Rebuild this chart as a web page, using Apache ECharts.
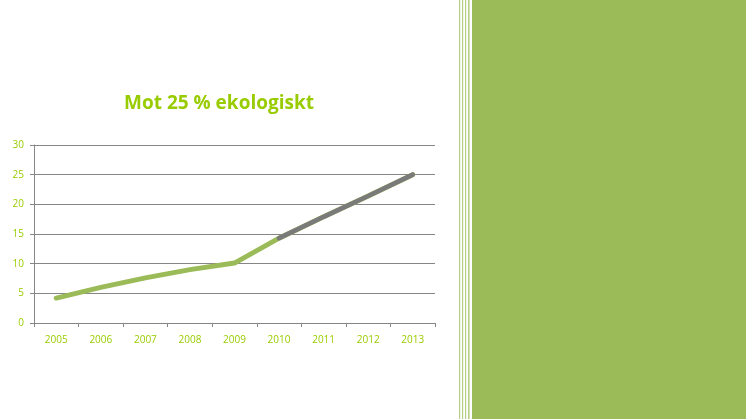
<!DOCTYPE html>
<html><head><meta charset="utf-8">
<script src="https://cdn.jsdelivr.net/npm/echarts@6/dist/echarts.min.js"></script>
<style>html,body{margin:0;padding:0;background:#fff}#c{width:746px;height:419px}</style>
</head><body><div id="c"></div>
<script>
var years = ['2005','2006','2007','2008','2009','2010','2011','2012','2013'];
var actual = [4.2, 6.0, 7.6, 9.0, 10.1, 14.3, 17.9, 21.4, 25.0];
var target = [null, null, null, null, null, 14.3, 17.9, 21.4, 25.0];
var yTicks = [0, 5, 10, 15, 20, 25, 30];

var chart = echarts.init(document.getElementById('c'), null, {renderer:'canvas'});
var stripes = [459, 462, 465, 468].map(function(x, i){
  return {type:'rect', shape:{x:x, y:0, width: i===3?1.6:1.2, height:419}, style:{fill:'#b5cf86'}, silent:true};
});
chart.setOption({
  animation:false,
  title:{text:'Mot 25 % ekologiskt', left:214, top:89, textAlign:'center',
    textStyle:{color:'#99cc00', fontSize:19, fontWeight:'bold', fontFamily:'Open Sans'}},
  graphic: [{type:'rect', shape:{x:472, y:0, width:274, height:419}, style:{fill:'#9bbb59'}, silent:true}].concat(stripes),
  grid:{left:34, right:311, top:145, bottom:96, containLabel:false},
  xAxis:{type:'category', data:years, boundaryGap:true,
    axisLine:{lineStyle:{color:'#868686', width:1}},
    axisTick:{show:true, length:4, lineStyle:{color:'#868686'}},
    axisLabel:{color:'#99cc00', fontSize:10, margin:12, fontFamily:'Open Sans'}},
  yAxis:{type:'value', min:yTicks[0], max:yTicks[yTicks.length-1], interval:5,
    axisLine:{show:true, lineStyle:{color:'#868686'}},
    axisTick:{show:true, length:4, lineStyle:{color:'#868686'}},
    splitLine:{lineStyle:{color:'#868686', width:1}},
    axisLabel:{color:'#99cc00', fontSize:10, margin:10, fontFamily:'Open Sans'}},
  series:[
    {type:'line', data:actual, symbol:'none', smooth:false,
      lineStyle:{color:'#9bbb59', width:5, cap:'round'}},
    {type:'line', data:target, symbol:'none',
      lineStyle:{color:'#7a7a7a', width:4.6, cap:'round'}}
  ]
});
</script></body></html>
